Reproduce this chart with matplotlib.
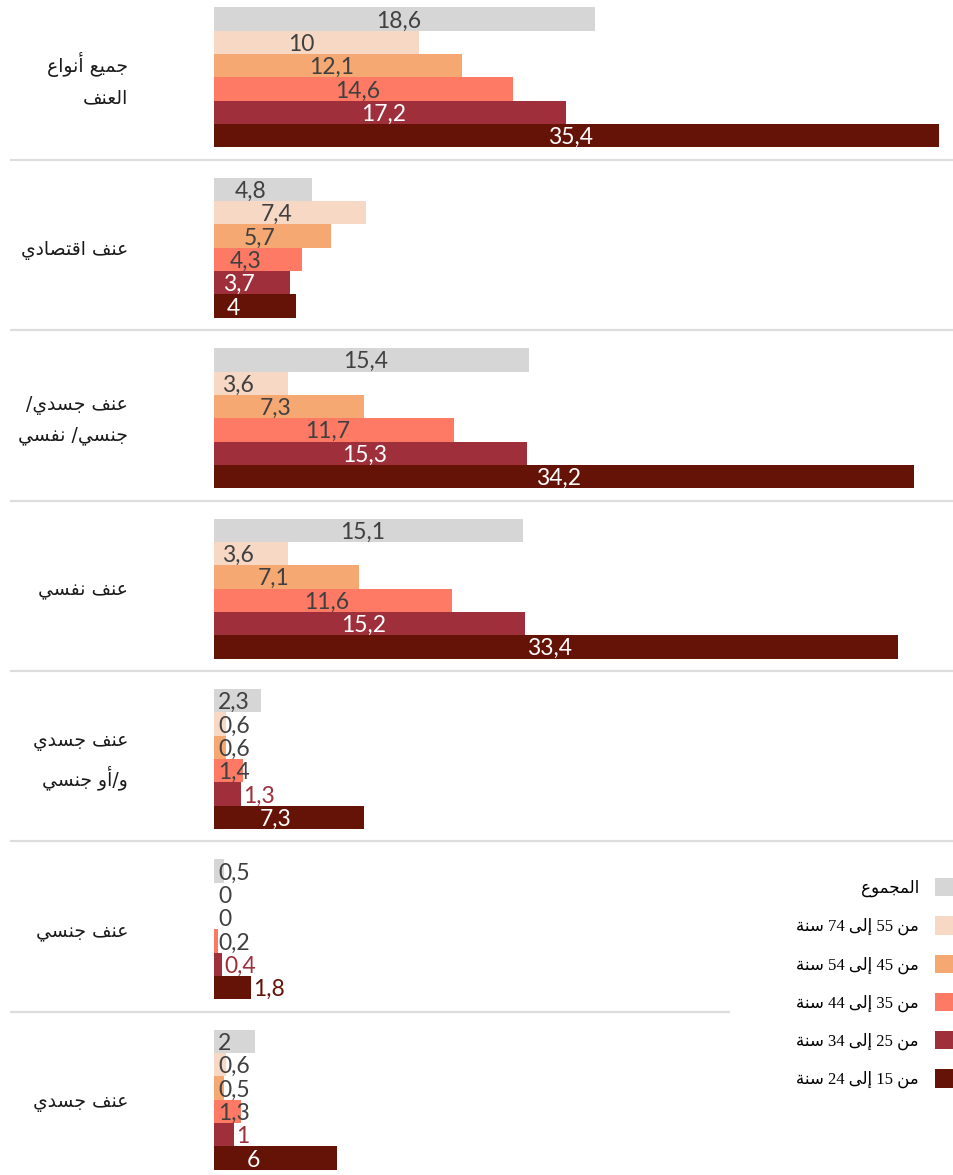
import re
import numpy as np
import matplotlib
matplotlib.use("Agg")
import matplotlib.pyplot as plt
from matplotlib.font_manager import FontProperties

# data
categories = ["جميع أنواع\nالعنف", "عنف اقتصادي", "عنف جسدي/\nجنسي/ نفسي", "عنف نفسي",
              "عنف جسدي\nو/أو جنسي", "عنف جنسي", "عنف جسدي"]
series_names = ["المجموع", "من 55 إلى 74 سنة", "من 45 إلى 54 سنة",
                "من 35 إلى 44 سنة", "من 25 إلى 34 سنة", "من 15 إلى 24 سنة"]
total = [18.6, 4.8, 15.4, 15.1, 2.3, 0.5, 2]
age_55_74 = [10, 7.4, 3.6, 3.6, 0.6, 0, 0.6]
age_45_54 = [12.1, 5.7, 7.3, 7.1, 0.6, 0, 0.5]
age_35_44 = [14.6, 4.3, 11.7, 11.6, 1.4, 0.2, 1.3]
age_25_34 = [17.2, 3.7, 15.3, 15.2, 1.3, 0.4, 1]
age_15_24 = [35.4, 4, 34.2, 33.4, 7.3, 1.8, 6]
series = [total, age_55_74, age_45_54, age_35_44, age_25_34, age_15_24]
colors = ["#d6d6d6", "#f6d8c5", "#f5a872", "#fe7a64", "#9e2f3b", "#641306"]

# minimal arabic shaping: (isolated, final, initial, medial)
FORMS = {
    'ا': (0xFE8D, 0xFE8E, None, None), 'أ': (0xFE83, 0xFE84, None, None),
    'إ': (0xFE87, 0xFE88, None, None), 'ة': (0xFE93, 0xFE94, None, None),
    'ت': (0xFE95, 0xFE96, 0xFE97, 0xFE98), 'ج': (0xFE9D, 0xFE9E, 0xFE9F, 0xFEA0),
    'د': (0xFEA9, 0xFEAA, None, None), 'س': (0xFEB1, 0xFEB2, 0xFEB3, 0xFEB4),
    'ص': (0xFEB9, 0xFEBA, 0xFEBB, 0xFEBC), 'ع': (0xFEC9, 0xFECA, 0xFECB, 0xFECC),
    'ف': (0xFED1, 0xFED2, 0xFED3, 0xFED4), 'ق': (0xFED5, 0xFED6, 0xFED7, 0xFED8),
    'ل': (0xFEDD, 0xFEDE, 0xFEDF, 0xFEE0), 'م': (0xFEE1, 0xFEE2, 0xFEE3, 0xFEE4),
    'ن': (0xFEE5, 0xFEE6, 0xFEE7, 0xFEE8), 'و': (0xFEED, 0xFEEE, None, None),
    'ى': (0xFEEF, 0xFEF0, None, None), 'ي': (0xFEF1, 0xFEF2, 0xFEF3, 0xFEF4),
}
LAM_ALEF = {'ا': (0xFEFB, 0xFEFC), 'أ': (0xFEF7, 0xFEF8), 'إ': (0xFEF9, 0xFEFA)}


def shape(text):
    out = []
    i = 0
    while i < len(text):
        c = text[i]
        if c not in FORMS:
            out.append(c)
            i += 1
            continue
        prev = text[i - 1] if i > 0 else ''
        prev_joins = prev in FORMS and FORMS[prev][2] is not None
        if c == 'ل' and i + 1 < len(text) and text[i + 1] in LAM_ALEF:
            iso, fin = LAM_ALEF[text[i + 1]]
            out.append(chr(fin if prev_joins else iso))
            i += 2
            continue
        nxt = text[i + 1] if i + 1 < len(text) else ''
        next_joins = nxt in FORMS
        iso, fin, ini, med = FORMS[c]
        if ini is None:
            f = fin if prev_joins else iso
        elif prev_joins and next_joins:
            f = med
        elif prev_joins:
            f = fin
        elif next_joins:
            f = ini
        else:
            f = iso
        out.append(chr(f))
        i += 1
    return ''.join(out)


def visual(line):
    # right-to-left display order, digit runs kept left-to-right
    parts = re.findall(r'[0-9]+|[^0-9]+', shape(line))
    return ''.join(p if p.isdigit() else p[::-1] for p in reversed(parts))


def rtl(text):
    return '\n'.join(visual(l) for l in text.split('\n'))


fig = plt.figure(figsize=(9.54, 11.75), dpi=100)
top_px = 7.4
ax = fig.add_axes([214 / 954, 0, 740 / 954, (1175 - top_px) / 1175])

px_unit = 20.48   # pixels per percent
bar_px = 23.33
pitch = 170.4 / bar_px
n_groups = len(categories)
group_top = np.arange(n_groups) * pitch

handles = []
for i, (vals, col, name) in enumerate(zip(series, colors, series_names)):
    y = group_top + i + 0.5
    h = ax.barh(y, vals, height=1.0, color=col, label=rtl(name), linewidth=0)
    handles.append(h)
    for v, yy in zip(vals, y):
        txt = f"{v:g}".replace('.', ',')
        if i >= 4:
            if v < 2.6:
                ax.text(v + 0.1, yy + 0.36, txt, ha='left', va='baseline',
                        color=col, fontsize=16.5, family='Lato')
            else:
                ax.text(max(v / 2 - 1.4, 0.2), yy + 0.36, txt, ha='left', va='baseline',
                        color='white', fontsize=16.5, family='Lato')
        else:
            ax.text(max(v / 2 - 1.4, 0.2), yy + 0.36, txt, ha='left', va='baseline',
                    color='#404040', fontsize=16.5, family='Lato')

x_left = (10 - 214) / px_unit
x_right = 740 / px_unit
for g in range(n_groups - 1):
    ys = group_top[g] + 6 + 0.53
    xr = x_right if g < n_groups - 2 else (730 - 214) / px_unit
    ax.plot([x_left, xr], [ys, ys], color='#dddddd', lw=1.6, clip_on=False,
            solid_capstyle='butt')

label_x = (128 - 214) / px_unit
for g, cat in enumerate(categories):
    ax.text(label_x, group_top[g] + 3.1, rtl(cat), ha='right', va='center',
            fontsize=13.5, color='#1a1a1a', family='DejaVu Sans', linespacing=1.7,
            multialignment='right')

ax.set_xlim(0, x_right)
ax.set_ylim((1175 - top_px) / bar_px, 0)
ax.axis('off')

ax.legend(handles=handles, markerfirst=False, frameon=False,
          loc='upper right', bbox_to_anchor=(1.0, 1 - 878 / 1175),
          bbox_transform=fig.transFigure, borderpad=0, borderaxespad=0,
          handlelength=1.14, handleheight=1.32, handletextpad=0.96,
          labelspacing=1.15,
          prop=FontProperties(family=['Liberation Serif', 'DejaVu Sans'], size=12))

fig.savefig('out.png', dpi=100)
